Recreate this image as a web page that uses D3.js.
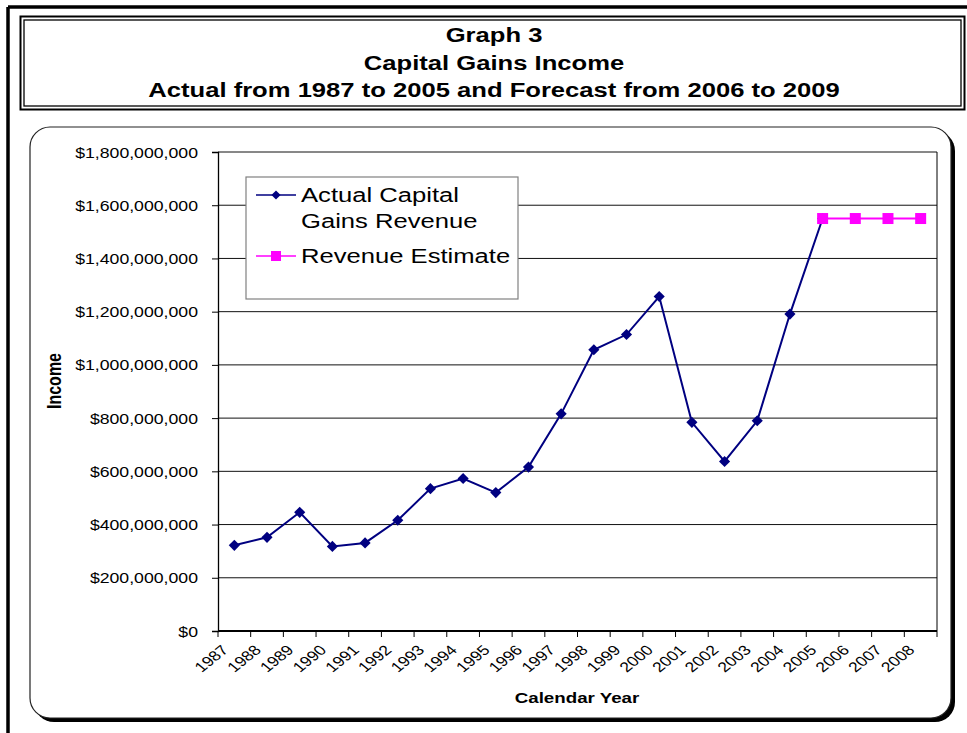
<!DOCTYPE html>
<html>
<head>
<meta charset="utf-8">
<script src="https://cdn.jsdelivr.net/npm/d3@7/dist/d3.min.js"></script>
<style>
  body { margin: 0; background: #fff; }
  text { font-family: "Liberation Sans", Arial, sans-serif; fill: #000; }
</style>
</head>
<body>
<svg id="chart" width="967" height="733"></svg>
<script>
// chart data
var years = ["1987","1988","1989","1990","1991","1992","1993","1994","1995","1996","1997",
             "1998","1999","2000","2001","2002","2003","2004","2005","2006","2007","2008"];
var actualYears = years.slice(0, 19);
var actualValues = [322e6, 352e6, 446e6, 318e6, 331e6, 416e6, 535e6, 573e6, 520e6, 616e6, 816e6,
                    1057e6, 1114e6, 1257e6, 784e6, 637e6, 790e6, 1191e6, 1550e6];
var estimateYears = ["2005","2006","2007","2008"];
var estimateValues = [1550e6, 1550e6, 1550e6, 1550e6];
var yTicks = [0, 200e6, 400e6, 600e6, 800e6, 1000e6, 1200e6, 1400e6, 1600e6, 1800e6];
var titleLines = ["Graph 3", "Capital Gains Income", "Actual from 1987 to 2005 and Forecast from 2006 to 2009"];
var legendItems = [
  { label: ["Actual Capital", "Gains Revenue"], color: "#000080", shape: "diamond" },
  { label: ["Revenue Estimate"], color: "#FF00FF", shape: "square" }
];

(function() {
var SX = 1.25; // the source picture is a little wider than tall
var svg = d3.select("#chart");

// outer frame (only top and left edges are visible)
svg.append("line").attr("x1", 8).attr("y1", 7).attr("x2", 967).attr("y2", 7)
  .attr("stroke", "#000").attr("stroke-width", 3.5);
svg.append("line").attr("x1", 8).attr("y1", 7).attr("x2", 8).attr("y2", 733)
  .attr("stroke", "#000").attr("stroke-width", 3.5);

// title box, double border
svg.append("rect").attr("x", 20.5).attr("y", 16.5).attr("width", 944).attr("height", 93)
  .attr("fill", "none").attr("stroke", "#000").attr("stroke-width", 2);
svg.append("rect").attr("x", 24).attr("y", 20).attr("width", 937).attr("height", 86)
  .attr("fill", "none").attr("stroke", "#000").attr("stroke-width", 1.3);

var title = svg.append("g");
titleLines.forEach(function(t, i) {
  title.append("text")
    .attr("transform", "translate(494," + (42 + i * 27.5) + ") scale(1.28,1)")
    .attr("text-anchor", "middle")
    .style("font-size", "20px").style("font-weight", "bold")
    .text(t);
});

// chart area with shadow
svg.append("rect").attr("x", 34).attr("y", 131).attr("width", 921).attr("height", 591)
  .attr("rx", 20).attr("fill", "#000");
svg.append("rect").attr("x", 30).attr("y", 127).attr("width", 921).attr("height", 591)
  .attr("rx", 20).attr("fill", "#fff").attr("stroke", "#222").attr("stroke-width", 1.2);

var left = 218, right = 937, plotTop = 152, bottom = 631;

var x = d3.scaleBand().domain(years).range([left, right]);
var y = d3.scaleLinear().domain([0, 1800e6]).range([bottom, plotTop]);
var cx = function(d) { return x(d) + x.bandwidth() / 2; };

// gridlines
svg.append("g").selectAll("line").data(yTicks.slice(1)).enter().append("line")
  .attr("x1", left).attr("x2", right)
  .attr("y1", function(d) { return y(d); }).attr("y2", function(d) { return y(d); })
  .attr("stroke", "#111").attr("stroke-width", 1);

// plot border right
svg.append("line").attr("x1", right).attr("x2", right).attr("y1", plotTop).attr("y2", bottom)
  .attr("stroke", "#000").attr("stroke-width", 1);

// y axis
var yAxis = svg.append("g").attr("transform", "translate(" + left + ",0)")
  .call(d3.axisLeft(y).tickValues(yTicks).tickFormat(d3.format("$,")).tickSize(6));
yAxis.select(".domain").attr("stroke", "#000").attr("stroke-width", 1.3);
yAxis.selectAll(".tick line").attr("stroke", "#000");
yAxis.selectAll(".tick text")
  .attr("x", null)
  .attr("transform", "translate(-20,0) scale(1.22,1)")
  .attr("dy", "0.35em")
  .style("font-size", "14.5px").style("font-family", "'Liberation Sans', Arial, sans-serif");

// x axis: ticks on category boundaries
var xg = svg.append("g");
xg.append("line").attr("x1", left).attr("x2", right).attr("y1", bottom).attr("y2", bottom)
  .attr("stroke", "#000").attr("stroke-width", 2);
xg.selectAll("line.tk").data(years).enter().append("line").attr("class", "tk")
  .attr("x1", function(d) { return x(d); }).attr("x2", function(d) { return x(d); })
  .attr("y1", bottom).attr("y2", bottom + 6).attr("stroke", "#000");
xg.append("line").attr("x1", right).attr("x2", right).attr("y1", bottom).attr("y2", bottom + 6)
  .attr("stroke", "#000");
xg.selectAll("text").data(years).enter().append("text")
  .attr("transform", function(d) {
    return "translate(" + (cx(d) - 5) + "," + (bottom + 20) + ") scale(" + SX + ",1) rotate(-45)";
  })
  .attr("text-anchor", "end")
  .style("font-size", "14px")
  .text(function(d) { return d; });

// axis titles
svg.append("text")
  .attr("transform", "translate(577,703) scale(" + SX + ",1)")
  .attr("text-anchor", "middle")
  .style("font-size", "15px").style("font-weight", "bold")
  .text("Calendar Year");
svg.append("text")
  .attr("transform", "translate(61,381) scale(" + SX + ",1) rotate(-90)")
  .attr("text-anchor", "middle")
  .style("font-size", "16px").style("font-weight", "bold")
  .text("Income");

// series
var line = d3.line().x(function(d) { return cx(d[0]); }).y(function(d) { return y(d[1]); });
var actual = d3.zip(actualYears, actualValues);
var estimate = d3.zip(estimateYears, estimateValues);

svg.append("path").datum(actual).attr("d", line)
  .attr("fill", "none").attr("stroke", "#000080").attr("stroke-width", 2);
svg.append("path").datum(estimate).attr("d", line)
  .attr("fill", "none").attr("stroke", "#FF00FF").attr("stroke-width", 2);

var diamond = d3.symbol().type(d3.symbolSquare).size(62);
svg.append("g").selectAll("path").data(actual).enter().append("path")
  .attr("d", diamond)
  .attr("transform", function(d) { return "translate(" + cx(d[0]) + "," + y(d[1]) + ") rotate(45)"; })
  .attr("fill", "#000080");
svg.append("g").selectAll("rect").data(estimate).enter().append("rect")
  .attr("x", function(d) { return cx(d[0]) - 5.5; }).attr("y", function(d) { return y(d[1]) - 5.5; })
  .attr("width", 11).attr("height", 11).attr("fill", "#FF00FF");

// legend
var lg = svg.append("g").attr("transform", "translate(246,177)");
lg.append("rect").attr("width", 272).attr("height", 122)
  .attr("fill", "#fff").attr("stroke", "#808080").attr("stroke-width", 1.2);
var rowY = [18, 79];
legendItems.forEach(function(item, i) {
  var g = lg.append("g").attr("transform", "translate(0," + rowY[i] + ")");
  g.append("line").attr("x1", 10).attr("x2", 50).attr("y1", 0).attr("y2", 0)
    .attr("stroke", item.color).attr("stroke-width", 1.5);
  if (item.shape === "diamond") {
    g.append("path").attr("d", d3.symbol().type(d3.symbolSquare).size(42))
      .attr("transform", "translate(30,0) rotate(45)").attr("fill", item.color);
  } else {
    g.append("rect").attr("x", 25).attr("y", -5).attr("width", 10).attr("height", 10)
      .attr("fill", item.color);
  }
  item.label.forEach(function(t, j) {
    g.append("text")
      .attr("transform", "translate(55," + (j * 26) + ") scale(1.22,1)")
      .attr("dy", "0.35em")
      .style("font-size", "21px")
      .text(t);
  });
});
})();
</script>
</body>
</html>
